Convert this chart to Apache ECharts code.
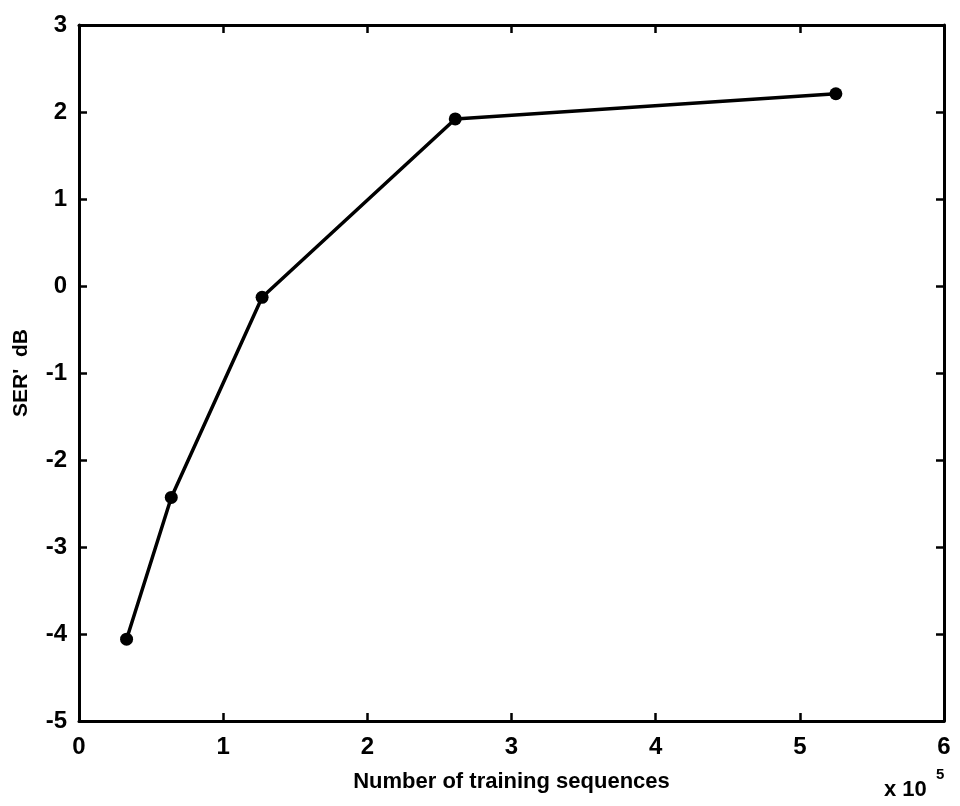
<!DOCTYPE html>
<html>
<head>
<meta charset="utf-8">
<script src="https://cdn.jsdelivr.net/npm/echarts@6/dist/echarts.min.js"></script>
<style>
  html, body { margin: 0; padding: 0; background: #fff; }
  #chart { width: 960px; height: 806px; }
</style>
</head>
<body>
<div id="chart"></div>
<script>
// Training-set size (in units of 1e5 sequences) versus SER' gain in dB
const trainingSequences = [0.33, 0.64, 1.27, 2.61, 5.25];
const serGainDb = [-4.06, -2.43, -0.13, 1.92, 2.21];
const xTicks = [0, 1, 2, 3, 4, 5, 6];
const yTicks = [-5, -4, -3, -2, -1, 0, 1, 2, 3];

const points = trainingSequences.map((x, i) => [x, serGainDb[i]]);

const font = 'Liberation Sans, Arial, Helvetica, sans-serif';
const ink = '#000';

const baseAxisLine = { onZero: false, lineStyle: { color: ink, width: 3 } };
const baseTick = { inside: true, length: 8, lineStyle: { color: ink, width: 2.5 } };
const tickLabel = { color: ink, fontFamily: font, fontSize: 24, fontWeight: 'bold' };

const chart = echarts.init(document.getElementById('chart'), null, { renderer: 'canvas' });
chart.setOption({
  animation: false,
  backgroundColor: '#fff',
  grid: { left: 79, right: 16, top: 25, bottom: 85, containLabel: false, outerBoundsMode: 'none' },
  xAxis: [
    {
      type: 'value', min: xTicks[0], max: xTicks[xTicks.length - 1], interval: 1,
      position: 'bottom',
      axisLine: baseAxisLine, axisTick: baseTick, splitLine: { show: false },
      axisLabel: Object.assign({ margin: 14 }, tickLabel),
      name: 'Number of training sequences', nameLocation: 'middle', nameGap: 50,
      nameTextStyle: { color: ink, fontFamily: font, fontSize: 22, fontWeight: 'bold' }
    },
    {
      type: 'value', min: xTicks[0], max: xTicks[xTicks.length - 1], interval: 1,
      position: 'top',
      axisLine: baseAxisLine, axisTick: baseTick, splitLine: { show: false },
      axisLabel: { show: false }
    }
  ],
  yAxis: [
    {
      type: 'value', min: yTicks[0], max: yTicks[yTicks.length - 1], interval: 1,
      position: 'left',
      axisLine: baseAxisLine, axisTick: baseTick, splitLine: { show: false },
      axisLabel: Object.assign({ margin: 12 }, tickLabel),
      name: "SER'  dB", nameLocation: 'middle', nameGap: 47, nameRotate: 90,
      nameTextStyle: { color: ink, fontFamily: font, fontSize: 21, fontWeight: 'bold' }
    },
    {
      type: 'value', min: yTicks[0], max: yTicks[yTicks.length - 1], interval: 1,
      position: 'right',
      axisLine: baseAxisLine, axisTick: baseTick, splitLine: { show: false },
      axisLabel: { show: false }
    }
  ],
  graphic: [
    {
      type: 'text', left: 884, top: 779,
      style: { text: 'x 10', fill: ink, font: 'bold 22px ' + font }
    },
    {
      type: 'text', left: 936, top: 767,
      style: { text: '5', fill: ink, font: 'bold 15px ' + font }
    }
  ],
  series: [
    {
      type: 'line',
      data: points,
      xAxisIndex: 0, yAxisIndex: 0,
      symbol: 'circle', symbolSize: 13,
      lineStyle: { color: ink, width: 3.5 },
      itemStyle: { color: ink },
      silent: true
    }
  ]
});
</script>
</body>
</html>
